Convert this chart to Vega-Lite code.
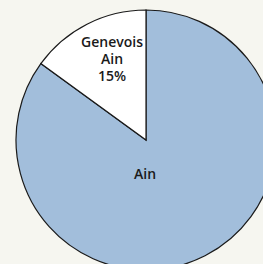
{
  "$schema": "https://vega.github.io/schema/vega-lite/v6.json",
  "width": 263,
  "height": 264,
  "autosize": {"type": "none"},
  "padding": 0,
  "background": "#f6f6f0",
  "config": {"view": {"stroke": null}},
  "data": {"values": [
    {"region": "Ain", "share": 85, "label": "Ain"},
    {"region": "Genevois Ain", "share": 15, "label": "Genevois\nAin\n15%"}
  ]},
  "encoding": {
    "theta": {"field": "share", "type": "quantitative", "stack": true},
    "order": {"field": "share", "type": "quantitative", "sort": "descending"}
  },
  "layer": [
    {
      "mark": {"type": "arc", "x": 146, "y": 140, "radius": 130, "stroke": "#1a1a1a", "strokeWidth": 1.2},
      "encoding": {
        "color": {"field": "region", "type": "nominal", "legend": null,
          "scale": {"domain": ["Ain", "Genevois Ain"], "range": ["#a2bedb", "#ffffff"]}}
      }
    },
    {
      "transform": [{"filter": "datum.region == 'Genevois Ain'"}],
      "mark": {"type": "text", "x": 112, "y": 43, "font": "Open Sans", "fontWeight": 600, "fontSize": 14, "lineBreak": "\n", "lineHeight": 17, "align": "center", "baseline": "middle", "color": "#1a1a1a"},
      "encoding": {"text": {"field": "label"}}
    },
    {
      "transform": [{"filter": "datum.region == 'Ain'"}],
      "mark": {"type": "text", "x": 145, "y": 175, "font": "Open Sans", "fontWeight": 600, "fontSize": 14, "align": "center", "baseline": "middle", "color": "#1a1a1a"},
      "encoding": {"text": {"field": "label"}}
    }
  ]
}
